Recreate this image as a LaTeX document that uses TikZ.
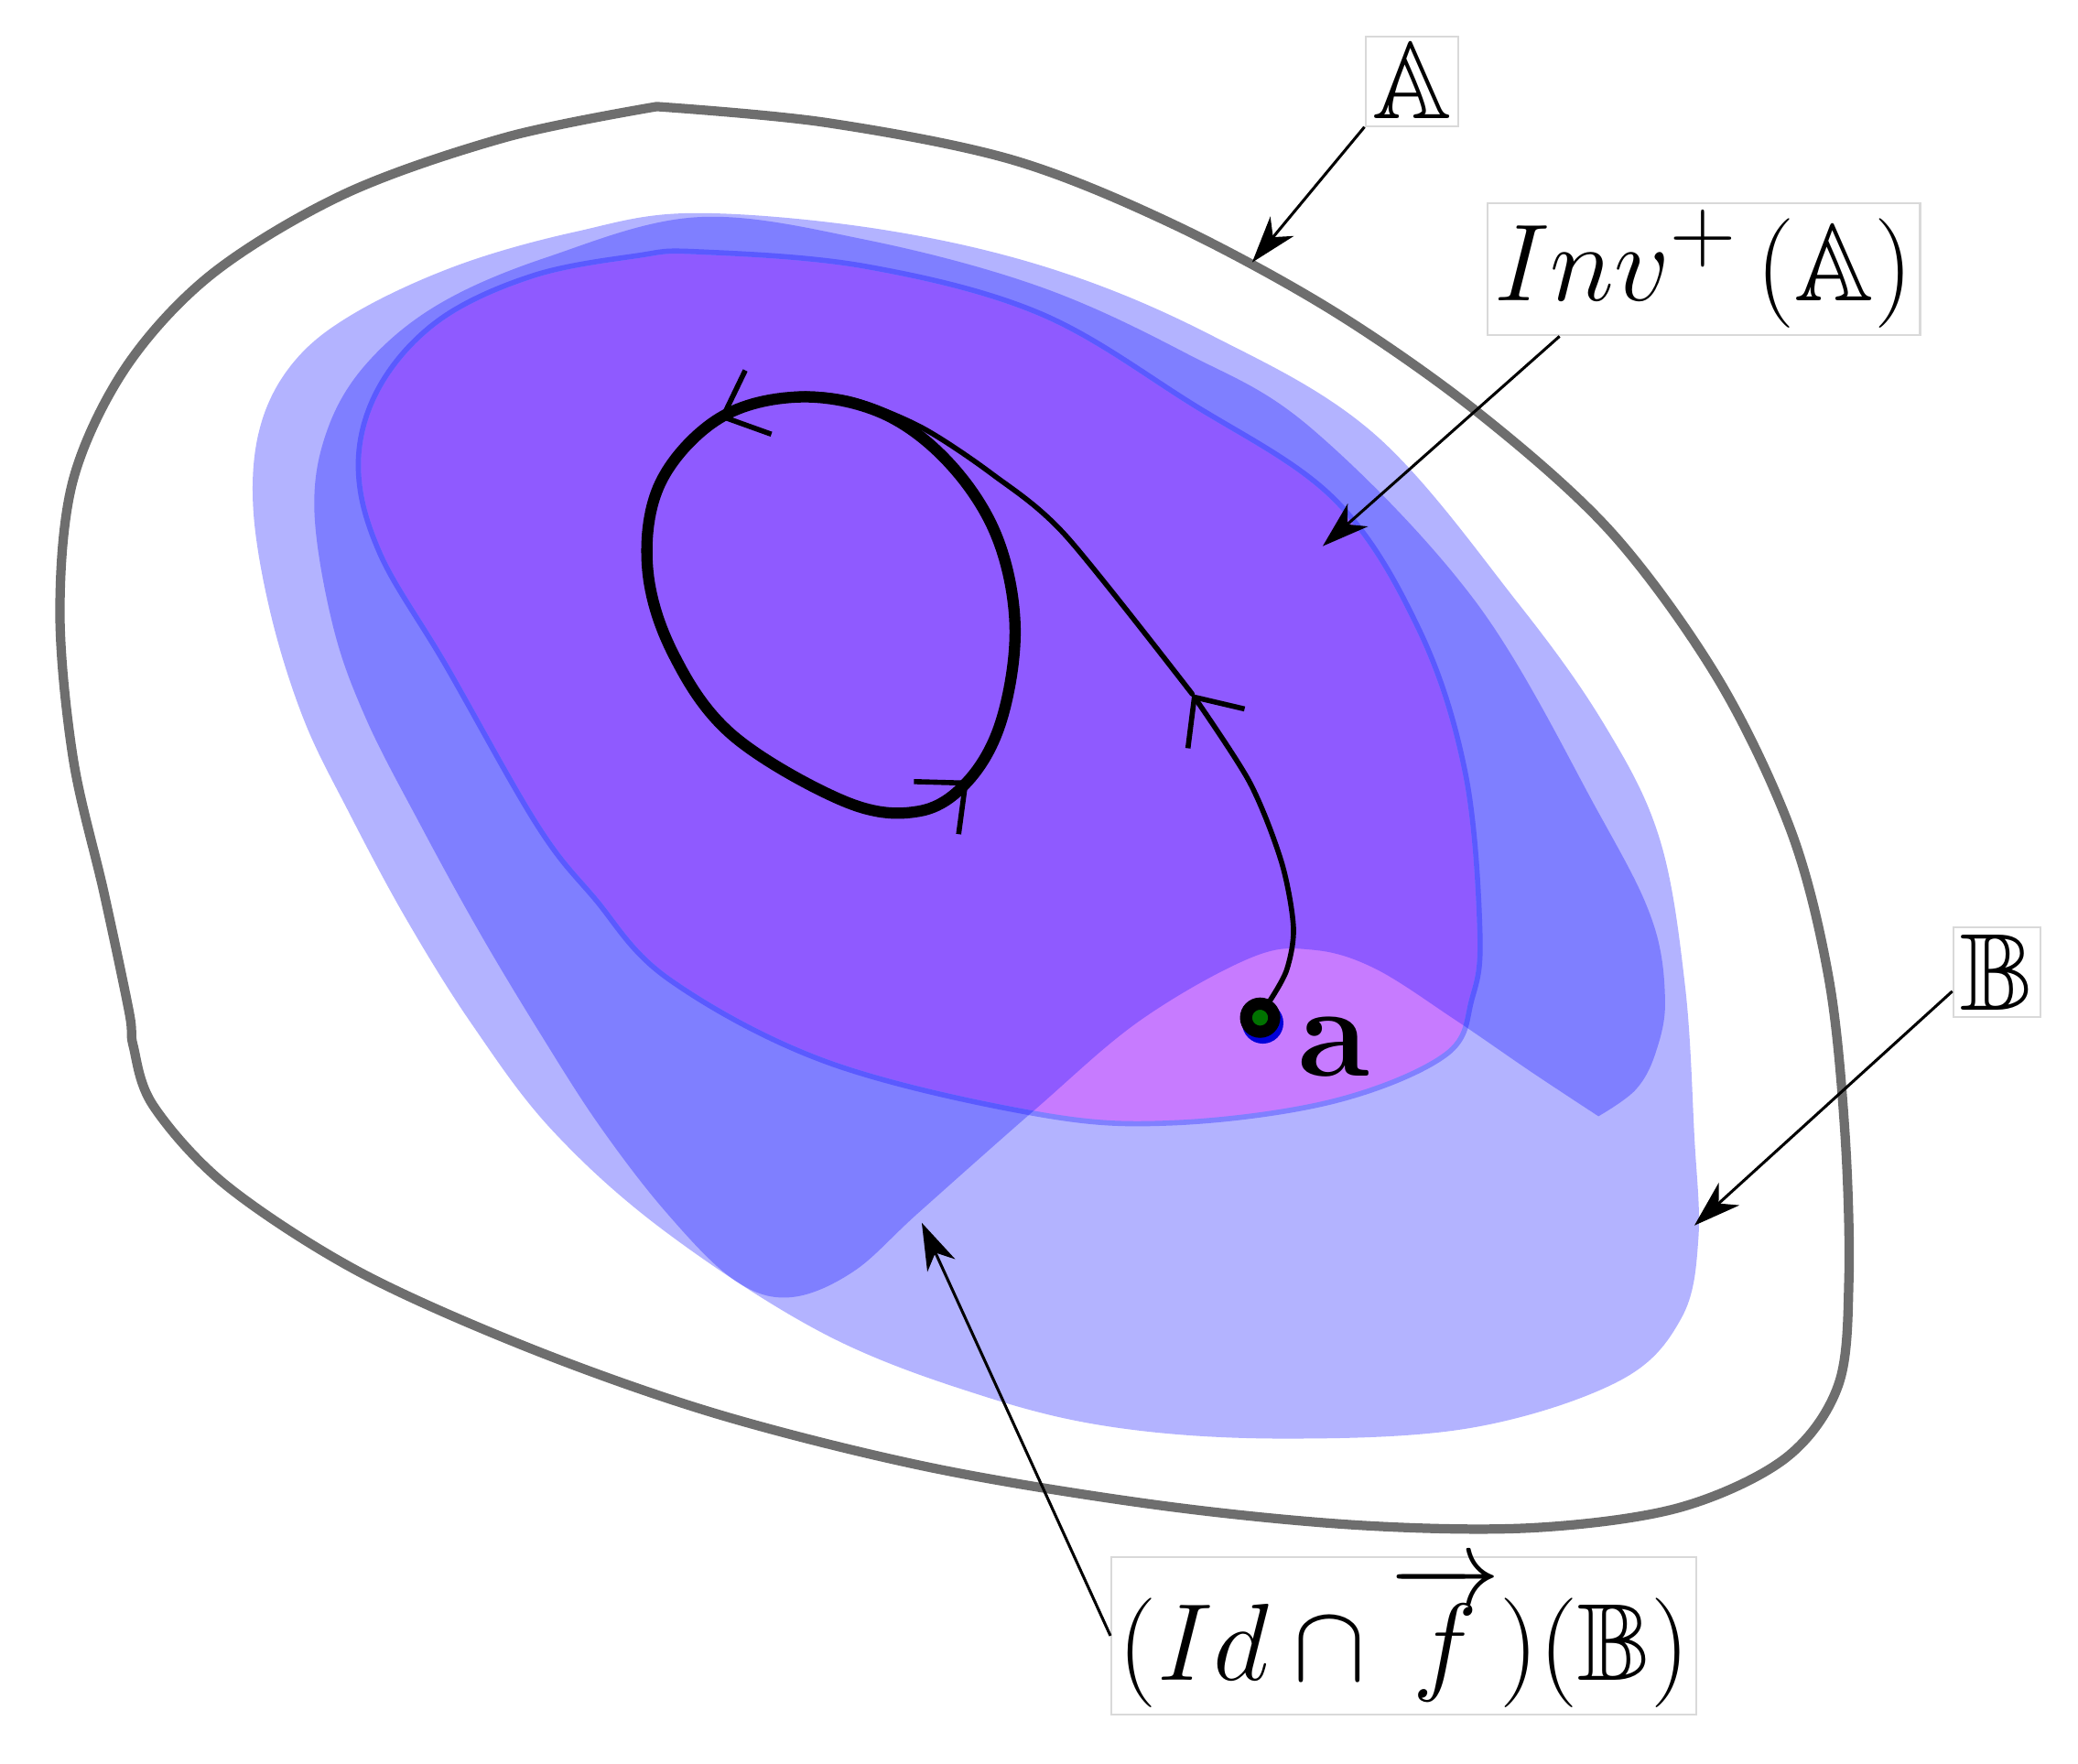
\documentclass[tikz,border=0pt]{standalone}
\usepackage{amsmath}
\usepackage{amssymb}
\usepackage{graphicx}
\usetikzlibrary{arrows.meta}

\definecolor{outergray}{HTML}{6E6E6E}
\definecolor{regB}{HTML}{B3B3FF}
\definecolor{regF}{HTML}{7F7FFF}
\definecolor{regInv}{HTML}{8F5AFF}
\definecolor{regPink}{HTML}{C77BFF}
\definecolor{invEdge}{HTML}{5A5AFF}
\definecolor{invEdgeLight}{HTML}{8080FF}

\newcommand{\lbltext}[1]{\scalebox{0.94}{$#1$}}

% region outlines (picture units: 1 = 0.01cm, y downwards)
\newcommand{\outerA}{plot[smooth, tension=0.55] coordinates {(493,80) (620,92) (760,120) (880,168) (1000,233) (1110,310) (1210,400) (1290,510) (1345,625) (1373,735) (1385,850) (1388,960) (1380,1040) (1340,1095) (1260,1132) (1150,1147) (1020,1145) (870,1130) (700,1102) (540,1062) (400,1013) (270,955) (170,890) (115,830) (100,785) (97,760) (78,670) (55,570) (45,460) (55,360) (95,275) (160,205) (260,145) (380,103) (493,80)} -- cycle}
\newcommand{\regionB}{plot[smooth cycle, tension=0.6] coordinates {(520,160) (660,172) (790,202) (910,252) (1032,326) (1139,452) (1205,545) (1246,630) (1265,740) (1272,853) (1275,930) (1262,990) (1215,1037) (1104,1072) (964,1080) (840,1072) (738,1048) (620,1002) (500,925) (415,849) (355,770) (305,690) (262,610) (228,540) (203,460) (190,380) (196,318) (222,270) (268,234) (344,199) (432,174)}}
\newcommand{\regionF}{plot[smooth, tension=0.6] coordinates {(1200,838) (1228,818) (1243,790) (1250,750) (1240,690) (1200,610) (1108,452) (985,322) (890,265) (780,215) (650,180) (524,163) (411,193) (330,228) (276,272) (246,322) (236,383) (250,470) (275,540) (316,620) (360,700) (405,775) (450,845) (500,910) (550,960) (592,974) (640,955) (690,910) (777,833) (856,766) (939,719) (985,713) (1032,727) (1093,766) (1150,805) (1200,838)} -- cycle}
\newcommand{\regionInv}{plot[smooth cycle, tension=0.6] coordinates {(524,189) (650,200) (780,235) (893,302) (1001,374) (1065,472) (1100,580) (1111,700) (1105,750) (1085,792) (1000,827) (880,843) (777,836) (620,797) (502,735) (446,674) (403,619) (335,500) (285,415) (269,349) (285,290) (330,240) (400,207) (478,192)}}

\begin{document}
\begin{tikzpicture}
  [x=0.01cm,y=-0.01cm,
   lbl/.style={draw=gray!30,line width=0.4pt,fill=white,inner sep=1.5pt,font=\Huge},
   leader/.style={-{Stealth[length=10pt,width=6.5pt,inset=3pt]},line width=0.6pt},
   traj/.style={line width=1.1pt,line cap=round},
   loopline/.style={line width=2.4pt,line join=round},
   barbtip/.style={-{Straight Barb[angle=84:11pt]}},
   dot/.style={circle,draw=black,line width=2.6pt,fill=green!45!black,minimum size=6pt,inner sep=0pt}]
  \useasboundingbox (0,0) rectangle (1560,1324);

  % the sets
  \draw[outergray,line width=2pt] \outerA;
  \fill[regB] \regionB;
  \fill[regF] \regionF;
  \begin{scope}
    \clip \regionInv;
    \fill[regPink] \regionInv;
    \fill[regInv] \regionF;
  \end{scope}
  \draw[invEdgeLight,line width=1.1pt] \regionInv;
  \begin{scope}
    \clip \regionF;
    \draw[invEdge,line width=1.1pt] \regionInv;
  \end{scope}

  % orbit of a
  \draw[loopline] plot[smooth cycle, tension=0.6] coordinates {(540,314) (496,362) (486,425) (505,490) (550,552) (635,602) (690,609) (727,586) (752,540) (762,470) (748,402) (712,347) (662,310) (600,298)};
  \fill[blue!85!black] (948,768) circle (4.4pt);
  \node[dot] (pa) at (946,764) {};
  \node (lbla) at (1001,786) {\Huge\scalebox{1.12}{$\mathbf{a}$}};
  \draw[traj,barbtip] plot[smooth] coordinates {(pa.60) (966,728) (971,696) (962,647) (938,587) (895,521)};
  \draw[traj] plot[smooth] coordinates {(895,521) (800,402) (745,356) (692,321) (640,300) (597,296) (552,307)};
  \draw[traj,barbtip] (562,305) -- (540,314);
  \draw[traj,barbtip] (707,603) -- (727,586);

  % labels
  \node[lbl] (lblA) at (1060,61) {\lbltext{\mathbb{A}}};
  \node[lbl] (lblInv) at (1279,202) {\lbltext{Inv^{+}\left(\mathbb{A}\right)}};
  \node[lbl] (lblB) at (1499,730) {\lbltext{\mathbb{B}}};
  \node[lbl] (lblF) at (1054,1228) {\lbltext{(Id\cap\overrightarrow{f})(\mathbb{B})}};

  \coordinate (tipA) at (940,197);
  \coordinate (tipInv) at (993,410);
  \coordinate (tipB) at (1272,920);
  \coordinate (tipF) at (692,918);

  \foreach \from/\to in {lblA.south west/tipA, lblInv.205/tipInv, lblB.203/tipB, lblF.west/tipF}
    \draw[leader] (\from) -- (\to);

\end{tikzpicture}
\end{document}
